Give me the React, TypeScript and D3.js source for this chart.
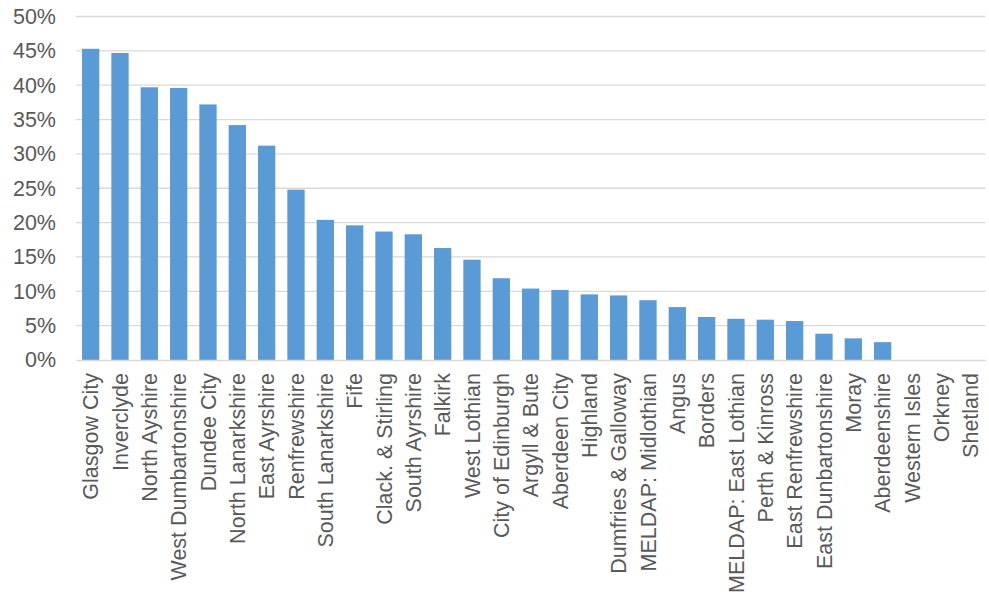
import * as d3 from "d3";
import { useRef, useEffect } from "react";

// Council areas, sorted as in the source chart
const areas = [
  "Glasgow City", "Inverclyde", "North Ayshire", "West Dumbartonshire", "Dundee City",
  "North Lanarkshire", "East Ayrshire", "Renfrewshire", "South Lanarkshire", "Fife",
  "Clack. & Stirling", "South Ayrshire", "Falkirk", "West Lothian", "City of Edinburgh",
  "Argyll & Bute", "Aberdeen City", "Highland", "Dumfries & Galloway", "MELDAP: Midlothian",
  "Angus", "Borders", "MELDAP: East Lothian", "Perth & Kinross", "East Renfrewshire",
  "East Dunbartonshire", "Moray", "Aberdeenshire", "Western Isles", "Orkney", "Shetland",
];

// share (fraction)
const shares = [
  0.453, 0.447, 0.397, 0.396, 0.372,
  0.342, 0.312, 0.248, 0.204, 0.196,
  0.187, 0.183, 0.163, 0.146, 0.119,
  0.104, 0.102, 0.0955, 0.094, 0.087,
  0.077, 0.0626, 0.060, 0.0587, 0.0567,
  0.0383, 0.0315, 0.026, 0, 0, 0,
];

const yTicks = [0, 0.05, 0.1, 0.15, 0.2, 0.25, 0.3, 0.35, 0.4, 0.45, 0.5];

export function RateChart({
  width = 989,
  height = 608,
  marginTop = 16.5,
  marginRight = 3.7,
  marginBottom = 248,
  marginLeft = 76,
}: {
  width?: number;
  height?: number;
  marginTop?: number;
  marginRight?: number;
  marginBottom?: number;
  marginLeft?: number;
}) {
  const svgRef = useRef<SVGSVGElement | null>(null);

  useEffect(() => {
    const data = areas.map((name, i) => ({ name, value: shares[i] }));

    const x = d3.scaleBand()
      .domain(areas)
      .range([marginLeft, width - marginRight])
      .paddingInner(0.41)
      .paddingOuter(0.205);

    const y = d3.scaleLinear()
      .domain([0, 0.5])
      .range([height - marginBottom, marginTop]);

    const svg = d3.select(svgRef.current)
      .attr("width", width)
      .attr("height", height)
      .attr("viewBox", [0, 0, width, height])
      .style("font-family", "'Liberation Sans', Arial, sans-serif");

    svg.selectAll("*").remove();

    // horizontal gridlines (skip 0, drawn as the axis line below)
    svg.append("g")
      .attr("stroke", "#d9d9d9")
      .attr("stroke-width", 1.3)
      .selectAll("line")
      .data(yTicks.slice(1))
      .join("line")
      .attr("x1", marginLeft)
      .attr("x2", width - marginRight)
      .attr("y1", (d) => y(d))
      .attr("y2", (d) => y(d));

    // y axis labels
    svg.append("g")
      .attr("transform", `translate(${marginLeft},0)`)
      .call(d3.axisLeft(y).tickValues(yTicks).tickFormat(d3.format(".0%")).tickSize(0).tickPadding(20))
      .call((g) => g.select(".domain").remove())
      .call((g) => g.selectAll("text")
        .attr("fill", "#595959")
        .attr("font-size", 21.5)
        .attr("font-family", "'Liberation Sans', Arial, sans-serif"));

    // bars
    svg.append("g")
      .attr("fill", "#5b9bd5")
      .selectAll("rect")
      .data(data)
      .join("rect")
      .attr("x", (d) => x(d.name) ?? 0)
      .attr("y", (d) => y(d.value))
      .attr("width", x.bandwidth())
      .attr("height", (d) => y(0) - y(d.value));

    // category axis
    svg.append("g")
      .attr("transform", `translate(0,${height - marginBottom})`)
      .call(d3.axisBottom(x).tickSize(0).tickSizeOuter(0))
      .call((g) => g.select(".domain").attr("stroke", "#d9d9d9").attr("stroke-width", 1.3))
      .call((g) => g.selectAll("text")
        .attr("fill", "#595959")
        .attr("font-size", 21.5)
        .attr("font-family", "'Liberation Sans', Arial, sans-serif")
        .attr("text-anchor", "end")
        .attr("dy", "0.35em")
        .attr("y", 0)
        .attr("transform", "translate(0,13) rotate(-90)"));
  }, [width, height, marginTop, marginRight, marginBottom, marginLeft]);

  return <svg ref={svgRef} style={{ position: "absolute", left: 0, top: 0, background: "#fff" }}></svg>;
}

export default function App() {
  return <RateChart />;
}
